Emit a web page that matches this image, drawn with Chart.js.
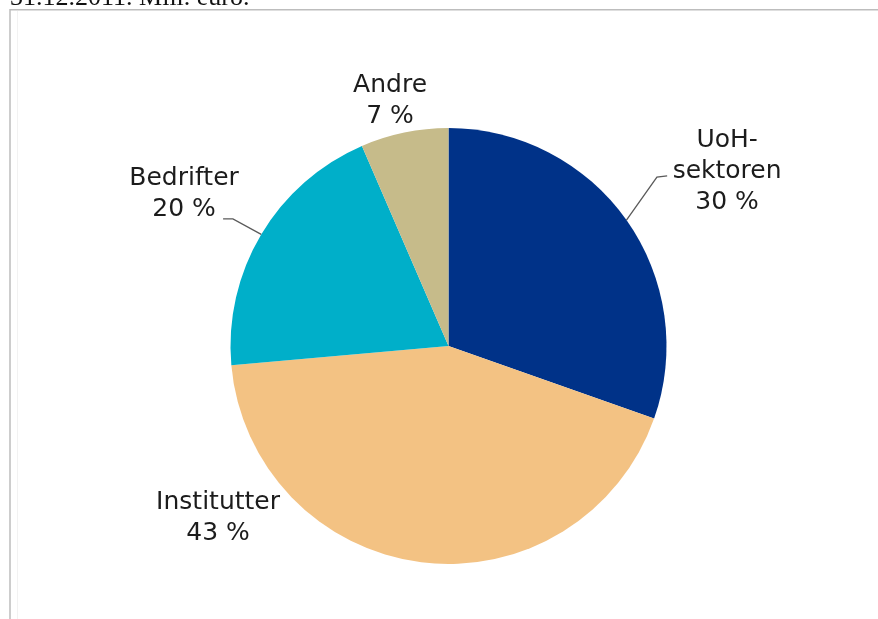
<!DOCTYPE html>
<html lang="no">
<head>
  <meta charset="UTF-8">
  <title>Fordeling</title>
  <script src="https://cdn.jsdelivr.net/npm/chart.js"></script>
  <style>
    html, body { margin: 0; padding: 0; background: #fff; }
    #pie { display: block; }
  </style>
</head>
<body>
<canvas id="pie" width="878" height="619"></canvas>

<script>
  // sektorfordeling, andel i prosent
  const categories = ['UoH-sektoren', 'Institutter', 'Bedrifter', 'Andre'];
  const nameLines = [['UoH-', 'sektoren'], ['Institutter'], ['Bedrifter'], ['Andre']];
  const shares = [30.4, 43.2, 19.9, 6.5];
  const colors = ['#003288', '#F3C283', '#00AFC9', '#C6BB8A'];

  // label anchor (centre x, first baseline) relative to pie centre, in radii
  const labelAnchor = [[1.278, -0.913], [-1.057, 0.748], [-1.213, -0.739], [-0.268, -1.165]];
  // leader line: elbow and end point, null = no line
  const leaders = [
    [[0.956, -0.775], [1.003, -0.78]],
    null,
    [[-0.989, -0.583], [-1.034, -0.583]],
    null
  ];

  const frameAndTitle = {
    id: 'frameAndTitle',
    beforeDraw(chart) {
      const c = chart.ctx;
      c.save();
      c.fillStyle = '#fff';
      c.fillRect(0, 0, chart.width, chart.height);
      c.strokeStyle = '#f2f2f2';
      c.lineWidth = 1;
      c.beginPath();
      c.moveTo(17.5, 11); c.lineTo(17.5, chart.height);
      c.stroke();
      c.strokeStyle = '#bdbdbd';
      c.lineWidth = 1.5;
      c.beginPath();
      c.moveTo(10, chart.height); c.lineTo(10, 9.75); c.lineTo(chart.width, 9.75);
      c.stroke();
      c.fillStyle = '#111';
      c.font = '26px "Liberation Serif", serif';
      c.textBaseline = 'alphabetic';
      c.fillText('31.12.2011. Mill. euro.', 10, 5);
      c.restore();
    }
  };

  const sliceLabels = {
    id: 'sliceLabels',
    afterDatasetsDraw(chart) {
      const c = chart.ctx;
      const arcs = chart.getDatasetMeta(0).data;
      c.save();
      arcs.forEach((arc, i) => {
        const { x, y, startAngle, endAngle, outerRadius: r } = arc.getProps(['x', 'y', 'startAngle', 'endAngle', 'outerRadius'], true);
        const mid = (startAngle + endAngle) / 2;
        if (leaders[i]) {
          const [elbow, end] = leaders[i];
          c.strokeStyle = '#5a5a5a';
          c.lineWidth = 1.3;
          c.beginPath();
          c.moveTo(x + Math.cos(mid) * r, y + Math.sin(mid) * r);
          c.lineTo(x + elbow[0] * r, y + elbow[1] * r);
          c.lineTo(x + end[0] * r, y + end[1] * r);
          c.stroke();
        }
        const lines = nameLines[i].concat([Math.round(shares[i]) + ' %']);
        const ax = x + labelAnchor[i][0] * r;
        const ay = y + labelAnchor[i][1] * r;
        c.fillStyle = '#1c1c1c';
        c.font = '25px "DejaVu Sans", Verdana, sans-serif';
        c.textAlign = 'center';
        c.textBaseline = 'alphabetic';
        lines.forEach((t, k) => c.fillText(t, ax, ay + k * 31));
      });
      c.restore();
    }
  };

  new Chart(document.getElementById('pie').getContext('2d'), {
    type: 'pie',
    data: {
      labels: categories,
      datasets: [{
        data: shares,
        backgroundColor: colors,
        borderWidth: 0
      }]
    },
    options: {
      responsive: false,
      animation: false,
      layout: { padding: { left: 230.5, right: 211.5, top: 128, bottom: 55 } },
      plugins: {
        legend: { display: false },
        tooltip: { enabled: false }
      }
    },
    plugins: [frameAndTitle, sliceLabels]
  });
</script>
</body>
</html>
